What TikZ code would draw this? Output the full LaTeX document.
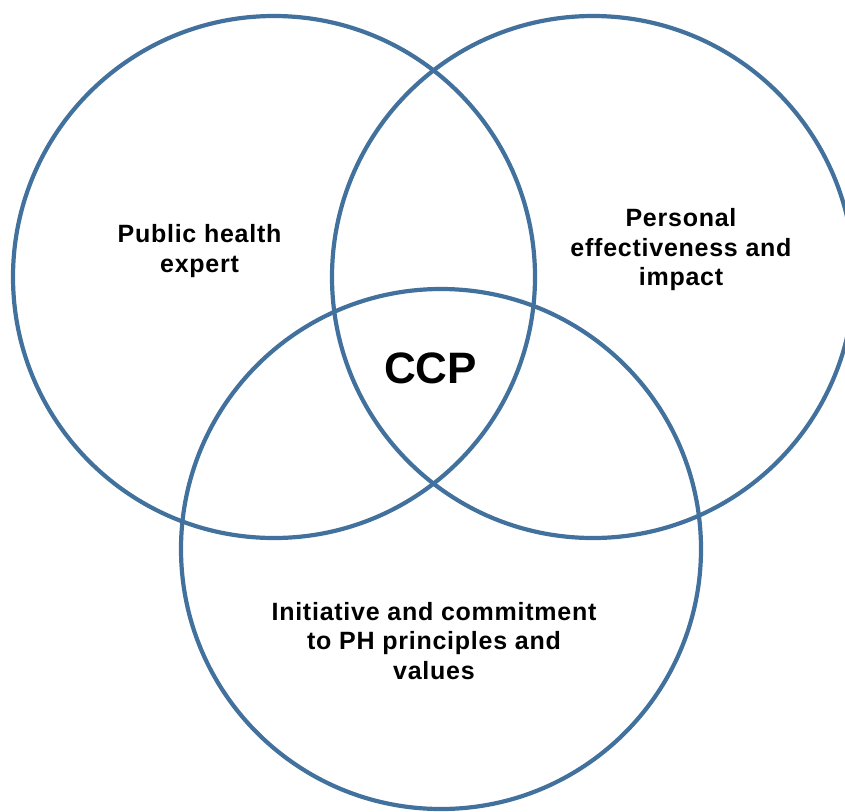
\documentclass[tikz,border=0pt]{standalone}
\usepackage{fontspec}
\setmainfont{Liberation Sans}
\definecolor{ringblue}{RGB}{65,113,156}
\tikzset{
  ring/.style={draw=ringblue,line width=4.2pt},
  area/.style={align=center,font=\bfseries\fontsize{25}{29.5}\selectfont\addfontfeature{LetterSpace=3}},
}
\begin{document}
\begin{tikzpicture}[x=1pt,y=-1pt]
            \useasboundingbox (0,0) rectangle (845,811);
            \clip (0,0) rectangle (845,811);
            \draw[ring] (274,277) circle[radius=261pt];
            \draw[ring] (593,277) circle[radius=261pt];
            \draw[ring] (441,549) circle[radius=260pt];

            \draw (199.5,251) node[area] (expert) {Public health\\expert};
            \draw (681,250) node[area] (personal) {Personal\\effectiveness and\\impact};
            \draw (434,641) node[area] (initiative) {Initiative and commitment\\to PH principles and\\values};
            \draw (430.5,368) node[font=\bfseries\fontsize{44}{50}\selectfont] (ccp) {CCP};
        \end{tikzpicture}
\end{document}
